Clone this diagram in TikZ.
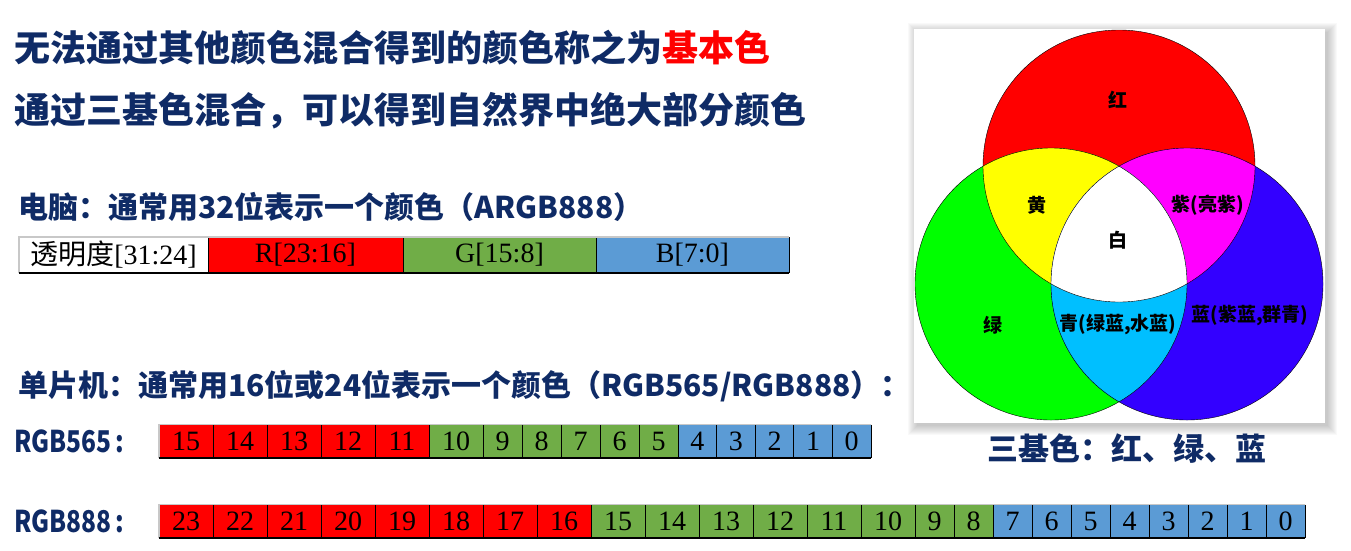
\documentclass[tikz,border=0pt]{standalone}
\usepackage{fontspec}
\usepackage{xcolor}
\usepackage{graphicx}
\usepackage{tikz}
\usetikzlibrary{positioning}

\setmainfont{Liberation Serif}
\newfontfamily\cjk{Noto Sans CJK SC}
\newfontfamily\cellfont{Liberation Serif}

\definecolor{titleblue}{HTML}{0F2B66}
\definecolor{bitred}{HTML}{FF0000}
\definecolor{bitgreen}{HTML}{70AD47}
\definecolor{bitblue}{HTML}{5B9BD5}
\definecolor{rimgray}{HTML}{C8C8C8}
\definecolor{mixred}{HTML}{FF0000}
\definecolor{mixgreen}{HTML}{00FF00}
\definecolor{mixblue}{HTML}{3300FF}
\definecolor{mixyellow}{HTML}{FFFF00}
\definecolor{mixmagenta}{HTML}{FF00FF}
\definecolor{mixcyan}{HTML}{00BFFF}

\begin{document}
\begin{tikzpicture}[x=1pt, y=-1pt,
    headline/.style={anchor=west, inner sep=0pt, text=titleblue, font=\cjk\bfseries\fontsize{36}{40}\selectfont},
    subline/.style={headline, font=\cjk\bfseries\fontsize{30}{34}\selectfont},
    bitcell/.style={inner sep=0pt, outer sep=0pt, minimum height=33pt, font=\cellfont\fontsize{28}{28}\selectfont},
    venntext/.style={inner sep=1pt, font=\cjk\bfseries\fontsize{19}{22}\selectfont}]
    \useasboundingbox (0,0) rectangle (1351,550);

    % 标题文字
    \node[headline] (line1) at (14,48) {无法通过其他颜色混合得到的颜色称之为\textcolor{bitred}{基本色}};
    \node[headline] (line2) at (14,111) {通过三基色混合，可以得到自然界中绝大部分颜色};
    \node[subline] (pcline) at (18,207) {电脑：通常用32位表示一个颜色（ARGB888）};
    \node[subline] (mculine) at (18,386) {单片机：通常用16位或24位表示一个颜色（RGB565/RGB888）：};
    \node[subline] (lab565) at (14,441) {\scalebox{0.82}[1]{RGB565\,:}};
    \node[subline] (lab888) at (14,521) {\scalebox{0.82}[1]{RGB888\,:}};

    % ARGB888 位段
    \coordinate (argb) at (19,255);
    \foreach \name/\w/\c/\txt [remember=\name as \lastname (initially argb)] in
        {alpha/189/white/{{\cjk 透明度}[31:24]}, rch/195/bitred/{R[23:16]},
         gch/193/bitgreen/{G[15:8]}, bch/193/bitblue/{B[7:0]}}
        \node[bitcell, minimum height=36pt, minimum width=\w pt, fill=\c, right=0pt of \lastname] (\name) {\txt};
    \foreach \name in {alpha,rch,gch,bch}
        \draw[line width=1pt] (\name.north east) -- (\name.south east);
    \draw[rimgray, line width=1.5pt] (alpha.south west) -- (alpha.north west) -- (bch.north east);
    \draw[line width=2pt] (alpha.south west) -- (bch.south east);

    % RGB565 位段
    \coordinate (mstart) at (159,441);
    \foreach \n/\w/\c [remember=\n as \lastn (initially start)] in
        {15/54/bitred, 14/54/bitred, 13/54/bitred, 12/54/bitred, 11/54/bitred,
         10/54/bitgreen, 9/39/bitgreen, 8/39/bitgreen, 7/39/bitgreen, 6/39/bitgreen, 5/39/bitgreen,
         4/38.6/bitblue, 3/38.6/bitblue, 2/38.6/bitblue, 1/38.6/bitblue, 0/38.6/bitblue}
        \node[bitcell, minimum width=\w pt, fill=\c, right=0pt of m\lastn] (m\n) {\n};
    \foreach \n in {0,...,15}
        \draw[line width=1pt] (m\n.north east) -- (m\n.south east);
    \draw[rimgray, line width=1.5pt] (m15.south west) -- (m15.north west) -- (m0.north east);
    \draw[line width=2pt] (m15.south west) -- (m0.south east);

    % RGB888 位段
    \coordinate (nstart) at (159,521);
    \foreach \n/\w/\c [remember=\n as \lastn (initially start)] in
        {23/54/bitred, 22/54/bitred, 21/54/bitred, 20/54/bitred, 19/54/bitred, 18/54/bitred, 17/54/bitred, 16/54/bitred,
         15/54/bitgreen, 14/54/bitgreen, 13/54/bitgreen, 12/54/bitgreen, 11/54/bitgreen, 10/54/bitgreen, 9/39/bitgreen, 8/39/bitgreen,
         7/39/bitblue, 6/39/bitblue, 5/39/bitblue, 4/39/bitblue, 3/39/bitblue, 2/39/bitblue, 1/39/bitblue, 0/39/bitblue}
        \node[bitcell, minimum width=\w pt, fill=\c, right=0pt of n\lastn] (n\n) {\n};
    \foreach \n in {0,...,23}
        \draw[line width=1pt] (n\n.north east) -- (n\n.south east);
    \draw[rimgray, line width=1.5pt] (n23.south west) -- (n23.north west) -- (n0.north east);
    \draw[line width=2pt] (n23.south west) -- (n0.south east);

    % 三原色图(带阴影的白底)
    \foreach \k in {1,...,10}
        \fill[black, opacity=0.025] (918-\k,33-\k) rectangle (1327+\k,425+\k);
    \fill[white] (914,29) rectangle (1325,423);

    \coordinate (cred) at (1119,166);
    \coordinate (cgreen) at (1051,284);
    \coordinate (cblue) at (1187,284);

    \fill[mixred] (cred) circle (136pt);
    \fill[mixgreen] (cgreen) circle (136pt);
    \fill[mixblue] (cblue) circle (136pt);
    \begin{scope}
        \clip (cred) circle (136pt);
        \fill[mixyellow] (cgreen) circle (136pt);
        \fill[mixmagenta] (cblue) circle (136pt);
    \end{scope}
    \begin{scope}
        \clip (cgreen) circle (136pt);
        \fill[mixcyan] (cblue) circle (136pt);
        \clip (cred) circle (136pt);
        \fill[white] (cblue) circle (136pt);
    \end{scope}
    \draw[line width=0.4pt] (cred) circle (136pt) (cgreen) circle (136pt) (cblue) circle (136pt);

    % 各区域名称
    \node[venntext] (hong) at (1118,100) {红};
    \node[venntext] (huang) at (1037,205) {黄};
    \node[venntext] (zi) at (1208,205) {紫(亮紫)};
    \node[venntext] (bai) at (1118,240) {白};
    \node[venntext] (lv) at (993,325) {绿};
    \node[venntext] (qing) at (1118,325) {青(绿蓝,水蓝)};
    \node[venntext] (lan) at (1250,316) {蓝(紫蓝,群青)};

    \node[subline, anchor=center, font=\cjk\bfseries\fontsize{31}{34}\selectfont] (primary) at (1127,449) {三基色：红、绿、蓝};
\end{tikzpicture}
\end{document}
